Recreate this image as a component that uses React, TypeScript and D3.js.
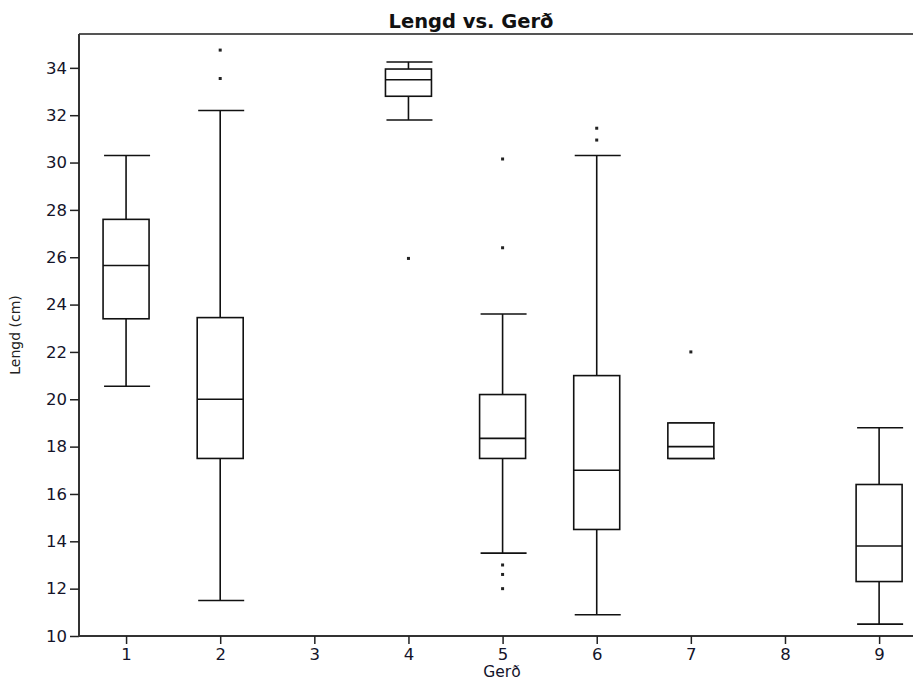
import React, { useEffect, useRef } from 'react';
import * as d3 from 'd3';

// Gerð categories (3 and 8 have no data)
const categories = [1, 2, 3, 4, 5, 6, 7, 8, 9];
const whiskerLow = [20.55, 11.5, null, 31.8, 13.5, 10.9, 17.5, null, 10.5];
const q1 = [23.4, 17.5, null, 32.8, 17.5, 14.5, 17.5, null, 12.3];
const median = [25.65, 20.0, null, 33.5, 18.35, 17.0, 18.0, null, 13.8];
const q3 = [27.6, 23.45, null, 33.95, 20.2, 21.0, 19.0, null, 16.4];
const whiskerHigh = [30.3, 32.2, null, 34.25, 23.6, 30.3, 19.0, null, 18.8];
const outliers = [
    [],
    [33.55, 34.75],
    [],
    [25.95],
    [12.0, 12.6, 13.0, 26.4, 30.15],
    [30.95, 31.45],
    [22.0],
    [],
    []
];

const yTicks = [10, 12, 14, 16, 18, 20, 22, 24, 26, 28, 30, 32, 34];

export default function App() {

    const svgRef = useRef(null);

    const width = 913;
    const height = 682;

    const left = 79;
    const right = 913;
    const top = 34;
    const bottom = 636;

    useEffect(() => {

        const svg = d3.select(svgRef.current);
        svg.selectAll('*').remove();

        const xScale = d3.scaleLinear()
            .domain([0.5, 9.36])
            .range([left, right]);

        const yScale = d3.scaleLinear()
            .domain([10, 35.43])
            .range([bottom, top]);

        const halfW = 23;
        const font = 'DejaVu Sans, Verdana, sans-serif';

        // frame: top border, left + bottom axis
        svg.append('line')
            .attr('x1', left).attr('x2', right)
            .attr('y1', top).attr('y2', top)
            .attr('stroke', '#555').attr('stroke-width', 2);

        const yAxis = d3.axisLeft(yScale)
            .tickValues(yTicks)
            .tickSize(9)
            .tickPadding(3)
            .tickSizeOuter(0);

        const yAxisG = svg.append('g')
            .attr('transform', `translate(${left}, 0)`)
            .call(yAxis);
        yAxisG.select('.domain').attr('stroke', '#333').attr('stroke-width', 2)
            .attr('d', `M0,${top}V${bottom}`);
        yAxisG.selectAll('.tick line').attr('stroke', '#222').attr('stroke-width', 1.5);
        yAxisG.selectAll('.tick text')
            .attr('font-family', font).attr('font-size', 16.5).attr('fill', '#14142a');

        const xAxis = d3.axisBottom(xScale)
            .tickValues(categories)
            .tickFormat(d3.format('d'))
            .tickSize(8)
            .tickPadding(4)
            .tickSizeOuter(0);

        const xAxisG = svg.append('g')
            .attr('transform', `translate(0, ${bottom})`)
            .call(xAxis);
        xAxisG.select('.domain').attr('stroke', '#333').attr('stroke-width', 2)
            .attr('d', `M${left - 1},0H${right}`);
        xAxisG.selectAll('.tick line').attr('stroke', '#222').attr('stroke-width', 1.5);
        xAxisG.selectAll('.tick text')
            .attr('font-family', font).attr('font-size', 16.5).attr('fill', '#14142a');

        // boxes
        const g = svg.append('g')
            .attr('stroke', '#111')
            .attr('stroke-width', 1.6)
            .attr('fill', 'none');

        categories.forEach((c, i) => {
            if (median[i] === null) return;
            const cx = xScale(c);

            // whiskers
            g.append('line')
                .attr('x1', cx).attr('x2', cx)
                .attr('y1', yScale(q3[i])).attr('y2', yScale(whiskerHigh[i]));
            g.append('line')
                .attr('x1', cx).attr('x2', cx)
                .attr('y1', yScale(q1[i])).attr('y2', yScale(whiskerLow[i]));
            g.append('line')
                .attr('x1', cx - halfW + 1).attr('x2', cx + halfW + 1)
                .attr('y1', yScale(whiskerHigh[i])).attr('y2', yScale(whiskerHigh[i]));
            g.append('line')
                .attr('x1', cx - halfW + 1).attr('x2', cx + halfW + 1)
                .attr('y1', yScale(whiskerLow[i])).attr('y2', yScale(whiskerLow[i]));

            // box + median
            g.append('rect')
                .attr('x', cx - halfW)
                .attr('y', yScale(q3[i]))
                .attr('width', halfW * 2)
                .attr('height', yScale(q1[i]) - yScale(q3[i]))
                .attr('fill', 'white');
            g.append('line')
                .attr('x1', cx - halfW).attr('x2', cx + halfW)
                .attr('y1', yScale(median[i])).attr('y2', yScale(median[i]));

            // outliers
            outliers[i].forEach(v => {
                svg.append('rect')
                    .attr('x', cx - 1.5)
                    .attr('y', yScale(v) - 1.5)
                    .attr('width', 3)
                    .attr('height', 3)
                    .attr('fill', '#222');
            });
        });

        // titles
        svg.append('text')
            .attr('x', 471).attr('y', 28)
            .attr('text-anchor', 'middle')
            .attr('font-family', font).attr('font-weight', 'bold').attr('font-size', 19.5)
            .attr('fill', '#111')
            .text('Lengd vs. Gerð');

        svg.append('text')
            .attr('x', 502).attr('y', 677)
            .attr('text-anchor', 'middle')
            .attr('font-family', font).attr('font-size', 15.5)
            .attr('fill', '#14142a')
            .text('Gerð');

        svg.append('text')
            .attr('transform', 'translate(20, 335) rotate(-90)')
            .attr('text-anchor', 'middle')
            .attr('font-family', font).attr('font-size', 14)
            .attr('fill', '#222')
            .text('Lengd (cm)');

    });

    return (
        <svg ref={svgRef} width={width} height={height}
            style={{ position: 'absolute', left: 0, top: 0, background: 'white' }}></svg>
    )
}
